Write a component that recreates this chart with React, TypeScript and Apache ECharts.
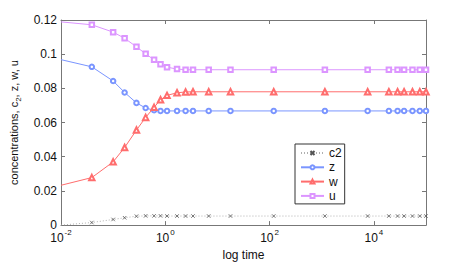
import React, { useEffect, useRef } from 'react';
import * as echarts from 'echarts';

// time points (first one only anchors the line at the left edge, drawn without a marker)
const times = [0.01, 0.039, 0.1, 0.166, 0.28, 0.42, 0.61, 0.81, 1.08, 1.68, 2.45, 3.4, 6.8, 17.8, 120, 1150, 7600, 19400, 28500, 38000, 55000, 76000, 100000];
const c2Values = [0, 0.0015, 0.0033, 0.0043, 0.0052, 0.0054, 0.0054, 0.0054, 0.0053, 0.0053, 0.0053, 0.0053, 0.0053, 0.0053, 0.0053, 0.0053, 0.0053, 0.0053, 0.0053, 0.0053, 0.0053, 0.0053, 0.0053];
const zValues = [0.0968, 0.0926, 0.0843, 0.0776, 0.0715, 0.0685, 0.0672, 0.0668, 0.0668, 0.0668, 0.0668, 0.0668, 0.0668, 0.0668, 0.0668, 0.0668, 0.0668, 0.0668, 0.0668, 0.0668, 0.0668, 0.0668, 0.0668];
const wValues = [0.0233, 0.0278, 0.037, 0.0454, 0.0556, 0.063, 0.0689, 0.0733, 0.0759, 0.0774, 0.0779, 0.078, 0.078, 0.078, 0.078, 0.078, 0.078, 0.078, 0.078, 0.078, 0.078, 0.078, 0.078];
const uValues = [0.1189, 0.1172, 0.1129, 0.1093, 0.1043, 0.1002, 0.0967, 0.0941, 0.0924, 0.0913, 0.0909, 0.0909, 0.0909, 0.0909, 0.0909, 0.0909, 0.0909, 0.0909, 0.0909, 0.0909, 0.0909, 0.0909, 0.0909];
const seriesNames = ['c2', 'z', 'w', 'u'];
const yTicks = [0, 0.02, 0.04, 0.06, 0.08, 0.1, 0.12];
const xExponentTicks = [-2, 0, 2, 4];

const FONT = 'Liberation Sans, Arial, Helvetica, sans-serif';
const AXIS_COLOR = '#777';

function build(values: number[]) {
  return times.map((t, i) =>
    i === 0 ? { value: [Math.log10(t), values[i]], symbol: 'none' } : [Math.log10(t), values[i]]
  );
}

export default function App() {
  const ref = useRef<HTMLDivElement>(null);
  useEffect(() => {
    if (!ref.current) return;
    const chart = echarts.init(ref.current, undefined, { renderer: 'svg' });
    const tickStyle = { inside: true, length: 4, lineStyle: { color: AXIS_COLOR } };
    const lineStyleAxis = { show: true, onZero: false, lineStyle: { color: AXIS_COLOR, width: 1 } };
    const xCommon = {
      type: 'value',
      min: -2,
      max: 5,
      interval: 2,
      splitLine: { show: false },
      axisLine: lineStyleAxis,
      axisTick: tickStyle,
    };
    const yCommon = {
      type: 'value',
      min: yTicks[0],
      max: yTicks[yTicks.length - 1],
      interval: 0.02,
      splitLine: { show: false },
      axisLine: lineStyleAxis,
      axisTick: tickStyle,
    };
    chart.setOption({
      animation: false,
      backgroundColor: '#fff',
      textStyle: { fontFamily: FONT },
      grid: { left: 61, top: 20, right: 44, bottom: 30 },
      xAxis: [
        {
          ...xCommon,
          position: 'bottom',
          name: 'log time',
          nameLocation: 'middle',
          nameGap: 19,
          nameTextStyle: { fontSize: 12, color: '#111', fontFamily: FONT },
          axisLabel: {
            margin: 3,
            color: '#111',
            formatter: (v: number) => (xExponentTicks.includes(v) ? `{b|10}{s|${v}}` : ''),
            rich: {
              b: { fontSize: 12, lineHeight: 16, verticalAlign: 'bottom', fontFamily: FONT, color: '#111' },
              s: { fontSize: 8, verticalAlign: 'top', fontFamily: FONT, color: '#111', padding: [0, 0, 0, 1] },
            },
          },
        },
        {
          ...xCommon,
          position: 'top',
          axisLabel: { show: false },
        },
      ],
      yAxis: [
        {
          ...yCommon,
          position: 'left',
          name: '{a|concentrations, c}{sub|2}{a|, z, w, u}',
          nameLocation: 'middle',
          nameRotate: 90,
          nameGap: 37,
          nameTextStyle: {
            rich: {
              a: { fontSize: 11, lineHeight: 14, verticalAlign: 'top', fontFamily: FONT, color: '#111' },
              sub: { fontSize: 8, lineHeight: 14, verticalAlign: 'bottom', fontFamily: FONT, color: '#111' },
            },
          },
          axisLabel: {
            margin: 4,
            fontSize: 12,
            color: '#111',
            fontFamily: FONT,
            formatter: (v: number) => String(Math.round(v * 100) / 100),
          },
        },
        {
          ...yCommon,
          position: 'right',
          axisLabel: { show: false },
        },
      ],
      legend: {
        data: seriesNames,
        orient: 'vertical',
        left: 295,
        top: 144,
        itemWidth: 23,
        itemHeight: 5,
        itemGap: 2.3,
        padding: [3, 3, 2, 5],
        borderColor: '#333',
        borderWidth: 1,
        backgroundColor: '#fff',
        textStyle: { fontSize: 12, lineHeight: 12, color: '#111', fontFamily: FONT },
      },
      series: [
        {
          name: 'c2',
          type: 'line',
          data: build(c2Values),
          symbol: 'path://M0,0L10,10M10,0L0,10',
          symbolSize: 3.5,
          lineStyle: { color: '#b0b0b0', width: 1, type: [1, 2] },
          itemStyle: { color: 'none', borderColor: '#555', borderWidth: 0.8 },
          color: '#555',
        },
        {
          name: 'z',
          type: 'line',
          data: build(zValues),
          symbol: 'emptyCircle',
          symbolSize: 4.5,
          lineStyle: { color: '#7a95ff', width: 1 },
          itemStyle: { color: '#7a95ff', borderColor: '#7a95ff', borderWidth: 0.8 },
          color: '#7a95ff',
        },
        {
          name: 'w',
          type: 'line',
          data: build(wValues),
          symbol: 'emptyTriangle',
          symbolSize: 5.5,
          lineStyle: { color: '#ff6d6d', width: 1 },
          itemStyle: { color: '#ff6d6d', borderColor: '#ff6d6d', borderWidth: 0.8 },
          color: '#ff6d6d',
        },
        {
          name: 'u',
          type: 'line',
          data: build(uValues),
          symbol: 'emptyRect',
          symbolSize: 4.5,
          lineStyle: { color: '#dc95ff', width: 1 },
          itemStyle: { color: '#dc95ff', borderColor: '#dc95ff', borderWidth: 0.8 },
          color: '#dc95ff',
        },
      ],
    });
    return () => chart.dispose();
  }, []);
  return <div ref={ref} style={{ width: 470, height: 266, position: 'absolute', left: 0, top: 0 }} />;
}
